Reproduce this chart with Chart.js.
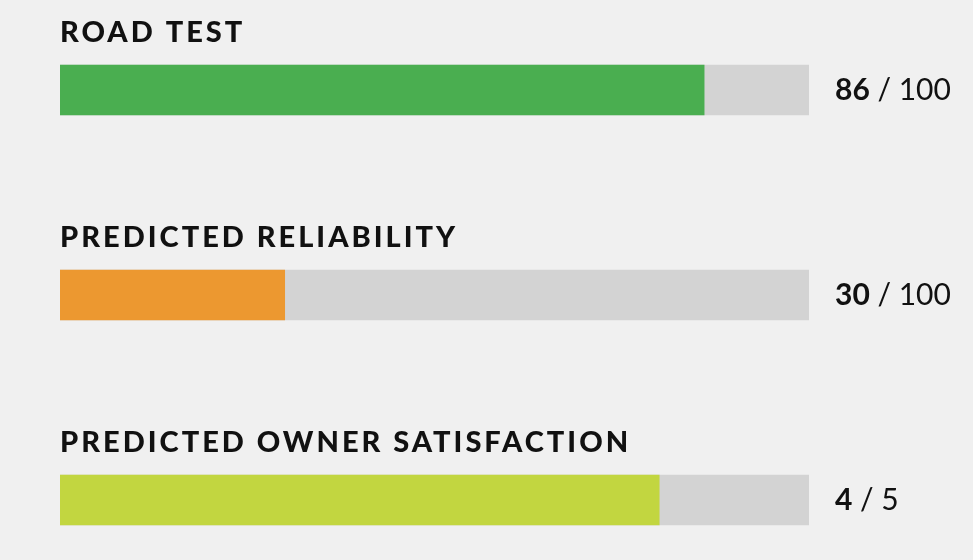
<!DOCTYPE html>
<html><head><meta charset="utf-8">
<script src="https://cdn.jsdelivr.net/npm/chart.js@4"></script>
<style>html,body{margin:0;background:#f0f0f0}#wrap{width:973px;height:560px}</style>
</head><body><div id="wrap"><canvas id="c"></canvas></div>
<script>
const categories = ["ROAD TEST", "PREDICTED RELIABILITY", "PREDICTED OWNER SATISFACTION"];
const scores = [86, 30, 4];
const maxScores = [100, 100, 5];
const fillColors = ["#4aae50", "#ec9830", "#c2d640"];

const pct = scores.map((s, i) => s / maxScores[i] * 100);

const textPlugin = {
  id: "texts",
  afterDatasetsDraw(chart) {
    const ctx = chart.ctx, x = chart.scales.x, y = chart.scales.y;
    ctx.save();
    ctx.fillStyle = "#111";
    categories.forEach((c, i) => {
      const cy = y.getPixelForValue(i);
      ctx.letterSpacing = "3px";
      ctx.font = "900 29px Lato, 'Open Sans', sans-serif";
      ctx.textBaseline = "alphabetic";
      ctx.textAlign = "left";
      ctx.fillText(c, x.left, cy - 48);
      ctx.letterSpacing = "0px";
      ctx.textBaseline = "middle";
      const sx = x.right + 26;
      const b = String(scores[i]);
      ctx.font = "bold 30px Lato, 'Open Sans', sans-serif";
      ctx.fillText(b, sx, cy);
      const w = ctx.measureText(b).width;
      ctx.font = "30px Lato, 'Open Sans', sans-serif";
      ctx.fillText(" / " + maxScores[i], sx + w, cy);
    });
    ctx.restore();
  }
};

new Chart(document.getElementById("c"), {
  type: "bar",
  data: {
    datasets: [
      { data: pct.map((v, i) => ({ x: v, y: i })), backgroundColor: fillColors, barThickness: 50, order: 0 },
      { data: pct.map((v, i) => ({ x: 100, y: i })), backgroundColor: "#d3d3d3", barThickness: 50, order: 1 }
    ]
  },
  options: {
    indexAxis: "y",
    responsive: true,
    maintainAspectRatio: false,
    animation: false,
    layout: { padding: { left: 60, right: 164, top: 0, bottom: 0 } },
    plugins: { legend: { display: false }, tooltip: { enabled: false } },
    datasets: { bar: { grouped: false } },
    scales: {
      x: { type: "linear", min: 0, max: 100, display: false },
      y: { type: "linear", offset: false, min: -90 / 205, max: -90 / 205 + 560 / 205, reverse: true, display: false }
    }
  },
  plugins: [textPlugin]
});
</script></body></html>
